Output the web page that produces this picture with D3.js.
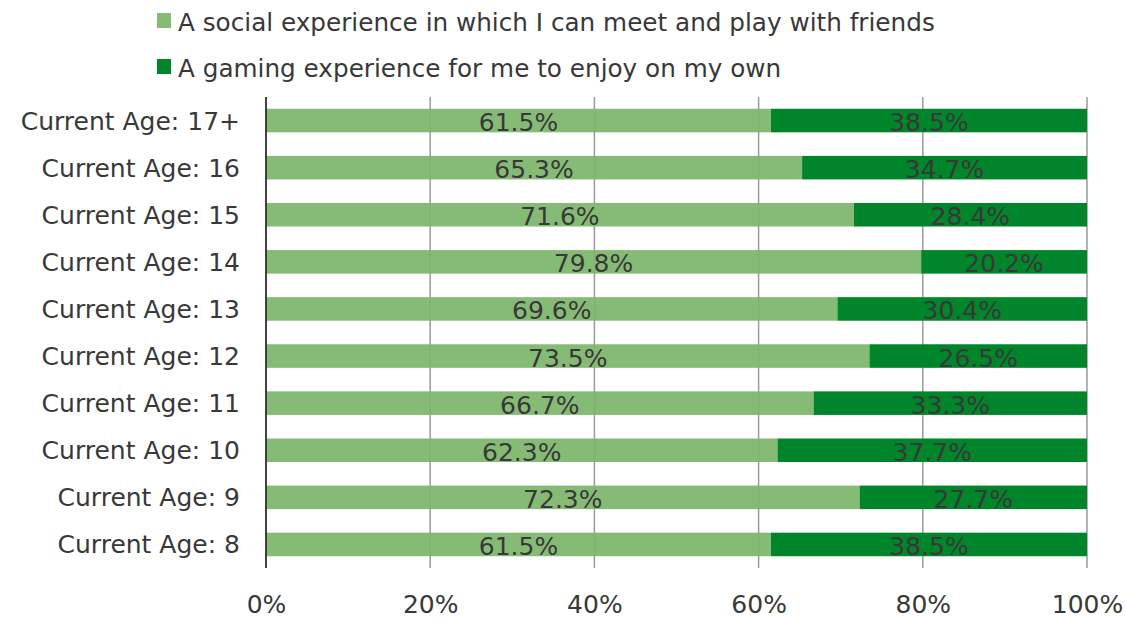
<!DOCTYPE html>
<html>
<head>
<meta charset="utf-8">
<script src="https://cdn.jsdelivr.net/npm/d3@7"></script>
<style>
  html, body { margin: 0; padding: 0; background: #fff; }
  svg { display: block; font-family: "DejaVu Sans", Verdana, sans-serif; }
</style>
</head>
<body>
<svg id="chart" width="1125" height="618"></svg>
<script>
// Age groups, top to bottom
const categories = [
  "Current Age: 17+", "Current Age: 16", "Current Age: 15", "Current Age: 14",
  "Current Age: 13", "Current Age: 12", "Current Age: 11", "Current Age: 10",
  "Current Age: 9", "Current Age: 8"
];
// Share choosing each kind of experience (%)
const socialValues = [61.5, 65.3, 71.6, 79.8, 69.6, 73.5, 66.7, 62.3, 72.3, 61.5];
const soloValues   = [38.5, 34.7, 28.4, 20.2, 30.4, 26.5, 33.3, 37.7, 27.7, 38.5];
const seriesNames = [
  "A social experience in which I can meet and play with friends",
  "A gaming experience for me to enjoy on my own"
];
const tickValues = [0, 20, 40, 60, 80, 100];

const colors = ["#7db66c", "#00852a"];
const legendColors = ["#86bb76", "#00852a"];
const textColor = "#383838";

const svg = d3.select("#chart");
const margin = { left: 266, right: 38, top: 97, bottom: 50 };
const W = 1125, H = 618;

const x = d3.scaleLinear().domain([0, 100]).range([margin.left, W - margin.right]);
const y = d3.scaleBand().domain(categories).range([margin.top, H - margin.bottom])
  .paddingInner(0.5).paddingOuter(0.25);

// Vertical gridlines
svg.append("g")
  .selectAll("line")
  .data(tickValues.slice(1))
  .join("line")
  .attr("x1", d => x(d)).attr("x2", d => x(d))
  .attr("y1", margin.top).attr("y2", H - margin.bottom)
  .attr("stroke", "#9a9a9a").attr("stroke-width", 1.5);

// Stacked bars (the lighter series lets the gridlines show through faintly)
const stackData = categories.map((c, i) => ({ cat: c, social: socialValues[i], solo: soloValues[i] }));
const stacked = d3.stack().keys(["social", "solo"])(stackData);

const layers = svg.append("g")
  .selectAll("g")
  .data(stacked)
  .join("g")
  .attr("fill", (d, i) => colors[i])
  .attr("fill-opacity", (d, i) => i === 0 ? 0.93 : 1);

layers.selectAll("rect")
  .data(d => d)
  .join("rect")
  .attr("x", d => x(d[0]))
  .attr("width", d => x(d[1]) - x(d[0]))
  .attr("y", d => y(d.data.cat))
  .attr("height", y.bandwidth());

// Value labels centred in each segment
const fs = 25;
svg.append("g")
  .selectAll("g")
  .data(stacked)
  .join("g")
  .selectAll("text")
  .data(d => d)
  .join("text")
  .attr("x", d => (x(d[0]) + x(d[1])) / 2)
  .attr("y", d => y(d.data.cat) + y.bandwidth() / 2 + fs * 0.36 + 1.5)
  .attr("text-anchor", "middle")
  .attr("font-size", fs)
  .attr("fill", textColor)
  .text(d => (d[1] - d[0]).toFixed(1) + "%");

// Category axis (left)
const yAxis = svg.append("g")
  .attr("transform", `translate(${margin.left},0)`)
  .call(d3.axisLeft(y).tickSize(0).tickPadding(26));
yAxis.select(".domain").remove();
yAxis.selectAll("text")
  .attr("font-size", fs)
  .attr("fill", textColor)
  .attr("font-family", "DejaVu Sans, Verdana, sans-serif")
  .attr("dy", "0.36em");

svg.append("line")
  .attr("x1", margin.left).attr("x2", margin.left)
  .attr("y1", margin.top).attr("y2", H - margin.bottom)
  .attr("stroke", "#2e2e2e").attr("stroke-width", 1.8);

// Percentage axis (bottom)
const xAxis = svg.append("g")
  .attr("transform", `translate(0,${H - margin.bottom})`)
  .call(d3.axisBottom(x).tickValues(tickValues).tickSize(0).tickPadding(27)
    .tickFormat(d => d + "%"));
xAxis.select(".domain").remove();
xAxis.selectAll("text")
  .attr("font-size", fs)
  .attr("fill", textColor)
  .attr("font-family", "DejaVu Sans, Verdana, sans-serif");

// Legend
const legend = svg.append("g")
  .selectAll("g")
  .data(seriesNames)
  .join("g")
  .attr("transform", (d, i) => `translate(157,${13 + i * 46})`);
legend.append("rect")
  .attr("width", 14).attr("height", 15)
  .attr("fill", (d, i) => legendColors[i]);
legend.append("text")
  .attr("x", 21).attr("y", 18)
  .attr("font-size", 24.7)
  .attr("fill", textColor)
  .text(d => d);
</script>
</body>
</html>
